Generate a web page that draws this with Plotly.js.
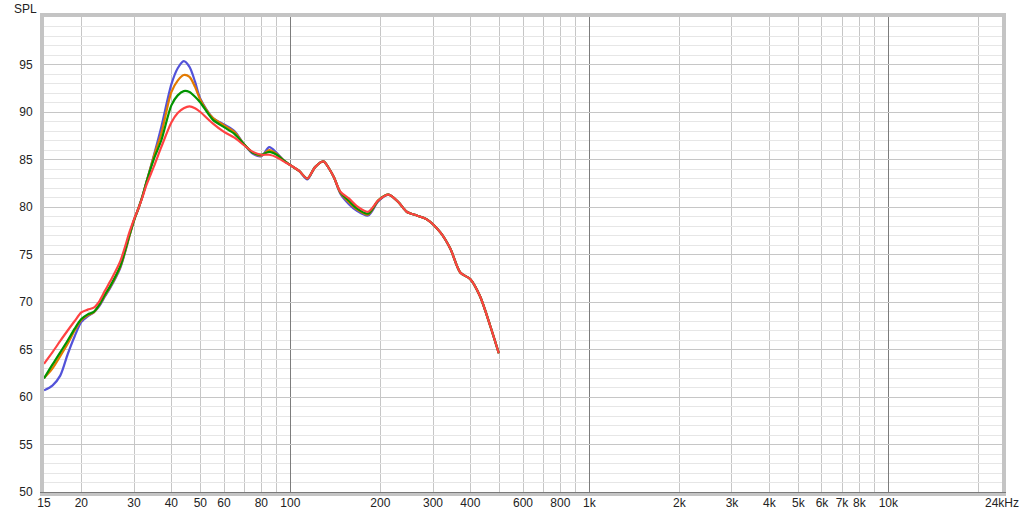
<!DOCTYPE html>
<html>
<head>
<meta charset="utf-8">
<script src="https://cdn.plot.ly/plotly-3.0.1.min.js"></script>
<style>
  html, body { margin: 0; padding: 0; background: #fff; }
  #chart { width: 1024px; height: 517px; }
</style>
</head>
<body>
<div id="chart"></div>
<script>
// frequency points (Hz) shared by all four curves
const freq = [15, 16, 17, 18, 19, 20, 21, 22, 23, 24,
              25, 27, 29, 30, 31, 32, 33, 35, 37, 40,
              42, 44, 46, 48, 50, 55, 60, 65, 70, 75,
              80, 85, 90, 95, 100, 107, 114, 121, 129, 135,
              140, 147, 157, 167, 182, 197, 213, 230, 245, 265,
              286, 318, 343, 370, 400, 431, 466, 498];

// SPL readings per curve
const splBlue = [60.7, 61.2, 62.25, 64.5, 66.4, 67.9, 68.5, 68.9, 69.6, 70.6,
                 71.5, 73.6, 77.0, 78.6, 79.8, 81.1, 82.6, 85.5, 88.4, 92.9,
                 94.6, 95.35, 94.75, 93.2, 91.4, 89.4, 88.7, 88.0, 86.6, 85.6,
                 85.35, 86.3, 85.7, 84.9, 84.4, 83.8, 82.9, 84.2, 84.8, 84.0,
                 83.1, 81.4, 80.3, 79.6, 79.1, 80.6, 81.3, 80.5, 79.5, 79.1,
                 78.7, 77.3, 75.6, 73.1, 72.4, 70.6, 67.5, 64.6];

const splOrange = [62.0, 63.0, 64.3, 65.6, 67.0, 68.1, 68.6, 68.9, 69.7, 70.7,
                   71.6, 73.7, 77.0, 78.6, 79.8, 81.1, 82.6, 85.4, 87.7, 92.1,
                   93.3, 93.9, 93.7, 92.65, 91.3, 89.4, 88.6, 87.9, 86.6, 85.7,
                   85.4, 86.0, 85.6, 84.9, 84.4, 83.8, 83.0, 84.2, 84.8, 84.0,
                   83.1, 81.5, 80.5, 79.75, 79.2, 80.7, 81.3, 80.5, 79.5, 79.1,
                   78.7, 77.3, 75.6, 73.1, 72.4, 70.6, 67.5, 64.6];

const splGreen = [61.95, 63.4, 64.7, 65.95, 67.2, 68.2, 68.7, 68.95, 69.75, 70.8,
                  71.7, 73.8, 77.1, 78.6, 79.8, 81.1, 82.6, 85.1, 87.0, 90.7,
                  91.75, 92.2, 92.1, 91.6, 91.0, 89.2, 88.4, 87.7, 86.6, 85.7,
                  85.5, 85.8, 85.5, 84.9, 84.4, 83.8, 83.0, 84.2, 84.8, 84.0,
                  83.1, 81.55, 80.65, 79.85, 79.3, 80.7, 81.3, 80.5, 79.5, 79.1,
                  78.7, 77.3, 75.6, 73.1, 72.4, 70.6, 67.5, 64.6];

const splRed = [63.5, 64.7, 65.9, 67.0, 68.0, 68.9, 69.2, 69.4, 70.1, 71.2,
                72.2, 74.3, 77.4, 78.7, 79.8, 81.0, 82.3, 84.3, 86.3, 88.9,
                89.9, 90.4, 90.6, 90.4, 90.0, 88.8, 87.9, 87.3, 86.5, 85.8,
                85.5, 85.5, 85.25, 84.8, 84.4, 83.8, 83.0, 84.2, 84.8, 84.0,
                83.1, 81.6, 80.9, 80.1, 79.5, 80.7, 81.3, 80.5, 79.5, 79.1,
                78.7, 77.3, 75.6, 73.1, 72.4, 70.6, 67.5, 64.6];

// axis labels and grid positions
const xTickVals = [15, 20, 30, 40, 50, 60, 80, 100, 200, 300, 400, 600, 800,
                   1000, 2000, 3000, 4000, 5000, 6000, 7000, 8000, 10000, 24000];
const xTickText = ['15', '20', '30', '40', '50', '60', '80', '100', '200', '300', '400', '600', '800',
                   '1k', '2k', '3k', '4k', '5k', '6k', '7k', '8k', '10k', '24kHz'];
const xDecades = [100, 1000, 10000];
const xGrid = [20, 30, 40, 50, 60, 70, 80, 90,
               200, 300, 400, 500, 600, 700, 800, 900,
               2000, 3000, 4000, 5000, 6000, 7000, 8000, 9000, 20000];
const yTickVals = [50, 55, 60, 65, 70, 75, 80, 85, 90, 95];

const series = [
   {name: 'blue', y: splBlue, color: '#5252d9', axis: 'x'},
   {name: 'orange', y: splOrange, color: '#e37a00', axis: 'x'},
   {name: 'green', y: splGreen, color: '#009400', axis: 'x'},
   {name: 'red', y: splRed, color: '#ff4242', axis: 'x2'}
];

const data = series.map(s => ({
   name: s.name,
   x: freq,
   y: s.y,
   xaxis: s.axis,
   mode: 'lines',
   line: {color: s.color, width: 2.2, shape: 'spline', smoothing: 0.8},
   hoverinfo: 'skip'
}));

const xRange = [Math.log10(15), Math.log10(24000)];

const layout = {
   width: 1024,
   height: 517,
   margin: {l: 44, r: 22, t: 17, b: 25},
   paper_bgcolor: '#ffffff',
   plot_bgcolor: '#ffffff',
   showlegend: false,
   font: {family: 'Liberation Sans, Arial, sans-serif', size: 12, color: '#222222'},
   // grid axis: dark decade lines, light lines elsewhere, sunken frame
   xaxis: {
      type: 'log',
      range: xRange,
      tickmode: 'array',
      tickvals: xDecades,
      showticklabels: false,
      ticks: '',
      showgrid: true,
      gridcolor: '#7c7c7c',
      gridwidth: 1,
      minor: {tickmode: 'array', tickvals: xGrid, showgrid: true, gridcolor: '#c6c6c6', ticks: ''},
      showline: true,
      linecolor: '#c4c4c4',
      linewidth: 4,
      mirror: true,
      zeroline: false,
      fixedrange: true
   },
   // label axis, laid over the grid axis
   xaxis2: {
      type: 'log',
      overlaying: 'x',
      anchor: 'y',
      side: 'bottom',
      range: xRange,
      tickmode: 'array',
      tickvals: xTickVals,
      ticktext: xTickText,
      ticks: '',
      showgrid: false,
      showline: true,
      linecolor: '#7a7a7a',
      linewidth: 1,
      zeroline: false,
      fixedrange: true
   },
   yaxis: {
      range: [50, 100],
      tickmode: 'array',
      tickvals: yTickVals,
      ticks: '',
      ticklabelstandoff: 5,
      showgrid: true,
      gridcolor: '#c6c6c6',
      minor: {dtick: 1, showgrid: true, gridcolor: '#e6e6e6', ticks: ''},
      showline: true,
      linecolor: '#c4c4c4',
      linewidth: 4,
      mirror: true,
      zeroline: false,
      fixedrange: true
   },
   annotations: [{
      text: 'SPL', xref: 'paper', yref: 'paper', x: 0, y: 1,
      xanchor: 'right', yanchor: 'bottom', xshift: -5, yshift: -1,
      showarrow: false, font: {size: 12, color: '#222222'}
   }]
};

Plotly.newPlot('chart', data, layout, {staticPlot: true, displayModeBar: false});
</script>
</body>
</html>
